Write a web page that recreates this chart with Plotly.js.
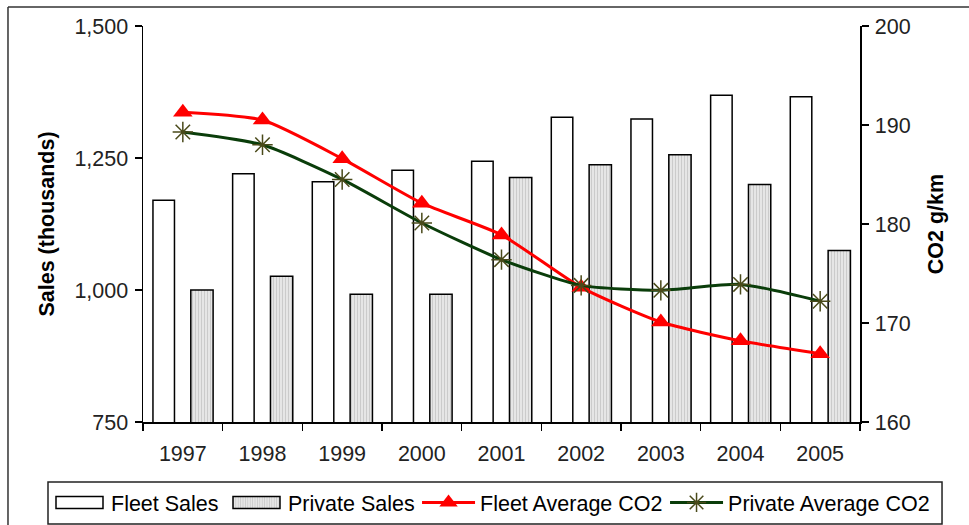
<!DOCTYPE html>
<html>
<head>
<meta charset="utf-8">
<script src="https://cdn.plot.ly/plotly-3.0.1.min.js"></script>
<style>
html,body{margin:0;padding:0;background:#fff;}
#chart{width:969px;height:525px;}
</style>
</head>
<body>
<div id="chart"></div>
<script>
var years = ["1997","1998","1999","2000","2001","2002","2003","2004","2005"];
var fleetSales = [1170, 1220, 1205, 1227, 1244, 1327, 1324, 1369, 1366];
var privateSales = [1000, 1026, 992, 992, 1213, 1237, 1256, 1200, 1075];
var fleetCO2 = [191.3, 190.5, 186.6, 182.1, 178.9, 173.6, 170.1, 168.2, 166.9];
var privateCO2 = [189.3, 188.0, 184.5, 180.1, 176.4, 173.8, 173.3, 173.9, 172.2];

var FONT = "Liberation Sans, Arial, sans-serif";
var FS = 21.5;

var traces = [
  {
    type: "bar", name: "Fleet Sales", x: years, y: fleetSales,
    offset: -0.375, width: 0.27, legend: "legend", legendwidth: 109,
    marker: {color: "#ffffff", line: {color: "#000000", width: 1.5}}
  },
  {
    type: "bar", name: "Private Sales", x: years, y: privateSales,
    offset: 0.1, width: 0.28, legend: "legend", legendwidth: 123,
    marker: {color: "#e4e4e4", line: {color: "#000000", width: 1.5},
             pattern: {shape: "|", bgcolor: "#e6e6e6", fgcolor: "#c8c8c8", size: 3, solidity: 0.3}}
  },
  {
    type: "scatter", mode: "lines+markers", name: "Fleet Average CO2",
    x: years, y: fleetCO2, yaxis: "y2", legend: "legend2", legendwidth: 180,
    line: {color: "#ff0000", width: 3, shape: "spline", smoothing: 0.6},
    marker: {symbol: "triangle-up", size: 17, color: "#ff0000"}
  },
  {
    type: "scatter", mode: "lines+markers", name: "Private Average CO2",
    x: years, y: privateCO2, yaxis: "y2", legend: "legend2",
    line: {color: "#0a3d0a", width: 3, shape: "spline", smoothing: 0.6},
    marker: {symbol: "asterisk-open", size: 17, color: "#4a4a1a", line: {color: "#4a4a1a", width: 1.5}}
  }
];

var legendCommon = {
  orientation: "h", yanchor: "top", y: -0.1515, xanchor: "left",
  borderwidth: 0, bgcolor: "rgba(0,0,0,0)",
  font: {size: FS, family: FONT, color: "#000"},
  itemwidth: 53, traceorder: "normal"
};

var layout = {
  width: 969, height: 525,
  margin: {l: 143, r: 109, t: 26, b: 103, autoexpand: false},
  paper_bgcolor: "#ffffff", plot_bgcolor: "#ffffff",
  font: {family: FONT, size: FS, color: "#222222"},
  barmode: "overlay",
  showlegend: true,
  xaxis: {
    type: "category", tickson: "boundaries", range: [-0.5, 8.5], autorange: false,
    ticks: "outside", ticklen: 7, tickwidth: 1.5, tickcolor: "#000",
    showline: true, linecolor: "#000", linewidth: 1.5,
    showgrid: false, zeroline: false,
    tickfont: {size: FS, family: FONT, color: "#222"},
    ticklabelstandoff: 12
  },
  yaxis: {
    range: [750, 1500], tickvals: [750, 1000, 1250, 1500], tickformat: ",",
    ticks: "outside", ticklen: 7, tickwidth: 1.5, tickcolor: "#000",
    showline: true, linecolor: "#000", linewidth: 1.5,
    showgrid: false, zeroline: false,
    tickfont: {size: FS, family: FONT, color: "#222"},
    ticklabelstandoff: 2,
    title: {text: "Sales (thousands)", font: {size: FS, family: FONT, color: "#000", weight: "bold"}, standoff: 14}
  },
  yaxis2: {
    overlaying: "y", side: "right",
    range: [160, 200], tickvals: [160, 170, 180, 190, 200],
    ticks: "outside", ticklen: 7, tickwidth: 1.5, tickcolor: "#000",
    showline: true, linecolor: "#000", linewidth: 1.5,
    showgrid: false, zeroline: false,
    tickfont: {size: FS, family: FONT, color: "#222"},
    ticklabelstandoff: 2,
    title: {text: "CO2 g/km", font: {size: FS, family: FONT, color: "#000", weight: "bold"}, standoff: 18}
  },
  legend: Object.assign({}, legendCommon, {x: -0.1325}),
  legend2: Object.assign({}, legendCommon, {x: 0.3822}),
  shapes: [
    {type: "line", xref: "paper", yref: "paper", x0: -0.1883, x1: -0.1883, y0: -0.3, y1: 1.048,
     line: {color: "#333", width: 1.5}},
    {type: "line", xref: "paper", yref: "paper", x0: -0.1883, x1: 1.2, y0: 1.048, y1: 1.048,
     line: {color: "#333", width: 1.5}},
    {type: "rect", xref: "paper", yref: "paper", x0: -0.1325, x1: 1.1144, y0: -0.2576, y1: -0.1515,
     line: {color: "#222", width: 1.5}, fillcolor: "rgba(0,0,0,0)"}
  ]
};

function widenLegendSwatches(gd) {
  // Excel-like legend swatches: wide rectangles for bars, longer lines for series
  gd.querySelectorAll("g.traces").forEach(function (tr) {
    var txt = tr.querySelector("text.legendtext");
    if (!txt) return;
    var tx = parseFloat(txt.getAttribute("x")) || 0;
    tr.querySelectorAll("g.legendpoints path").forEach(function (p) {
      var cls = p.getAttribute("class") || "";
      if (cls.indexOf("legendbar") >= 0 || cls.indexOf("legendundefined") >= 0) {
        p.removeAttribute("transform");
        p.setAttribute("d", "M" + (tx - 55) + ",-6H" + (tx - 8) + "V6H" + (tx - 55) + "Z");
      } else if (cls.indexOf("scatterpts") >= 0) {
        p.setAttribute("transform", "translate(" + (tx - 31) + ",0)");
      }
    });
    tr.querySelectorAll("g.legendlines path").forEach(function (p) {
      p.setAttribute("d", "M" + (tx - 58) + ",0H" + (tx - 4));
    });
  });
}

Plotly.newPlot("chart", traces, layout, {staticPlot: true, displayModeBar: false}).then(function (gd) {
  widenLegendSwatches(gd);
  setTimeout(function () { widenLegendSwatches(gd); }, 50);
});
</script>
</body>
</html>
